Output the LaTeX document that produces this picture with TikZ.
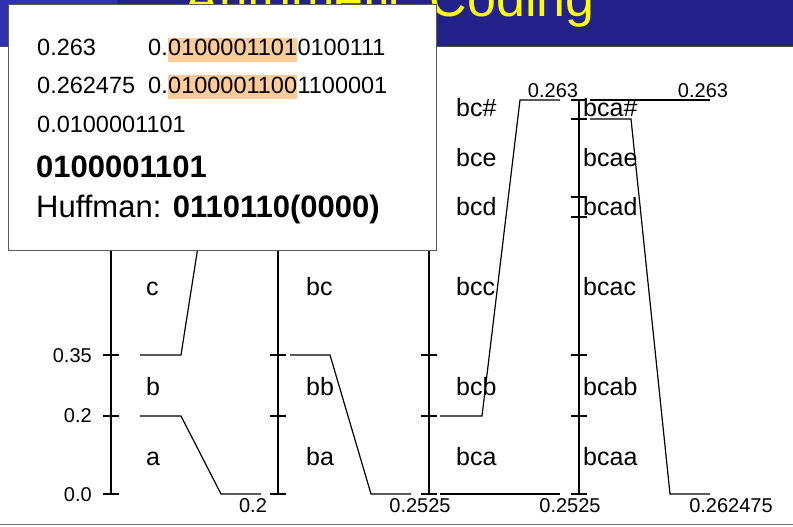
\documentclass[tikz,border=0pt]{standalone}
\usepackage{fontspec}
\setmainfont{Liberation Sans}
\definecolor{bannerblue}{RGB}{34, 34, 138}
\definecolor{bannerlight}{RGB}{48, 48, 178}
\definecolor{titleyellow}{RGB}{255, 255, 0}
\definecolor{peach}{RGB}{255, 204, 153}
\definecolor{boxgray}{RGB}{90, 90, 90}

\tikzset{
  axisline/.style={line width=2pt},
  zoomline/.style={line width=1.2pt, line join=miter},
  seglbl/.style={anchor=base west, inner sep=0pt, font=\fontsize{25}{30}\selectfont},
  numlbl/.style={inner sep=0pt, font=\fontsize{20}{24}\selectfont},
  popup/.style={draw=boxgray, line width=1pt, fill=white, minimum width=428pt, minimum height=245pt, inner sep=0pt},
  boxtxt/.style={anchor=base west, inner sep=0pt, font=\fontsize{23.5}{28}\selectfont},
  boxbig/.style={anchor=base west, inner sep=0pt, font=\fontsize{31}{36}\selectfont},
  hl/.style={boxtxt, fill=peach, text height=18pt, text depth=6pt},
}

\begin{document}
\begin{tikzpicture}[x=1pt, y=-1pt]
    \clip (0,0) rectangle (793,527);
    \fill[white] (0,0) rectangle (793,527);

    % Title banner (cut off at the top)
    \fill[bannerblue] (0,0) rectangle (793,46);
    \fill[bannerlight] (0,0) rectangle (117,46);
    \draw[black!70, line width=1pt] (0,46.5) -- (793,46.5);
    \node[anchor=base east, inner sep=0pt, text=titleyellow, font=\fontsize{52}{60}\selectfont] (title) at (595,17) {Arithmetic Coding};

    % Footer rule
    \draw[black!55, line width=1.2pt] (0,524.5) -- (793,524.5);

    % Interval axes with their ticks
    \foreach \x in {111, 278, 429, 579} {
        \draw[axisline] (\x,100) -- (\x,494);
        \foreach \y in {100, 119, 197, 217, 355, 416, 494}
            \draw[axisline] (\x-8,\y) -- (\x+8,\y);
    }

    % Values on the first axis
    \node[numlbl, anchor=east] (v35) at (92,356) {0.35};
    \node[numlbl, anchor=east] (v20) at (92,416) {0.2};
    \node[numlbl, anchor=east] (v00) at (92,495) {0.0};

    % Symbol labels
    \foreach \t/\y [count=\i] in {a/465, b/395, c/295}
        \node[seglbl] (sA\i) at (146,\y) {\t};
    \foreach \t/\y [count=\i] in {ba/465, bb/395, bc/295}
        \node[seglbl] (sB\i) at (306,\y) {\t};
    \foreach \t/\y [count=\i] in {bca/465, bcb/395, bcc/295, bcd/215, bce/166, bc\#/117}
        \node[seglbl] (sC\i) at (456,\y) {\t};
    \foreach \t/\y [count=\i] in {bcaa/465, bcab/395, bcac/295, bcad/215, bcae/166, bca\#/117}
        \node[seglbl] (sD\i) at (583,\y) {\t};

    % Zoom from b to the next axis
    \draw[zoomline] (140,416) -- (181,416) -- (221,494) -- (261,494);
    \draw[zoomline] (140,355) -- (181,355) -- (221,100) -- (261,100);
    \node[numlbl, anchor=base] (z1) at (253,512) {0.2};

    % Zoom from bc
    \draw[zoomline] (290,355) -- (330,355) -- (371,494) -- (411,494);
    \draw[zoomline] (290,217) -- (330,217) -- (371,100) -- (411,100);
    \node[numlbl, anchor=base] (z2) at (420,512) {0.2525};

    % Zoom from bca
    \draw[zoomline] (440,494) -- (481,494) -- (520,494) -- (560,494);
    \draw[zoomline] (440,416) -- (482,416) -- (520,100) -- (560,100);
    \node[numlbl, anchor=base] (z3lo) at (570,512) {0.2525};
    \node[numlbl, anchor=base] (z3hi) at (553,97) {0.263};

    % Zoom from bca#
    \draw[zoomline] (590,119) -- (631,119) -- (670,494) -- (710,494);
    \draw[zoomline] (590,100) -- (631,100) -- (670,100) -- (710,100);
    \node[numlbl, anchor=base] (z4lo) at (731,512) {0.262475};
    \node[numlbl, anchor=base] (z4hi) at (703,97) {0.263};

    % Pop-up with the binary expansions
    \node[popup] (popup) at (222,127.5) {};
    \node[boxtxt] (r1a) at (37,56) {0.263};
    \node[boxtxt] (r1b) at (148,56) {0.};
    \node[hl] (r1c) at (r1b.base east) {0100001101};
    \node[boxtxt] (r1d) at (r1c.base east) {0100111};
    \node[boxtxt] (r2a) at (37,93) {0.262475};
    \node[boxtxt] (r2b) at (148,93) {0.};
    \node[hl] (r2c) at (r2b.base east) {0100001100};
    \node[boxtxt] (r2d) at (r2c.base east) {1100001};
    \node[boxtxt] (r3) at (37,132) {0.0100001101};
    \node[boxbig] (r4) at (36,177) {\bfseries 0100001101};
    \node[boxbig] (r5) at (36,217) {Huffman: \textbf{0110110(0000)}};
\end{tikzpicture}
\end{document}
